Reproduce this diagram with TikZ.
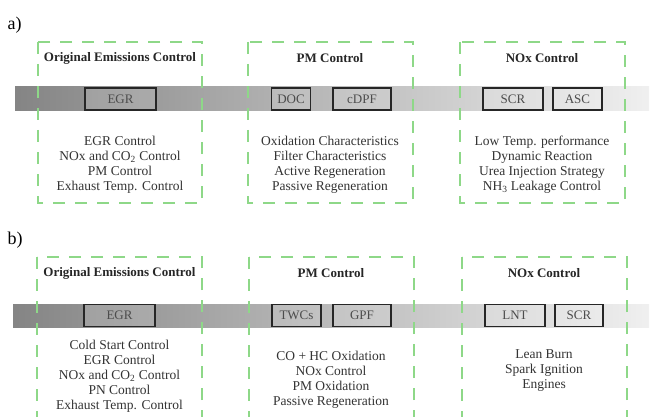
\documentclass[tikz,border=0pt]{standalone}
\usepackage{fontspec}
\setmainfont{Liberation Serif}
\begin{document}
\begin{tikzpicture}[x=1pt,y=-1pt,
  grp/.style={draw=green!45!gray!60!white, draw=dashgreen, line width=2pt, dash pattern=on 12pt off 10pt},
  comp/.style={draw=black!85, line width=1.2pt, fill=white, fill opacity=0.15, text opacity=1, text=black!70, font=\fontsize{13}{15}\selectfont, minimum height=22pt, inner sep=0pt},
  ttl/.style={font=\fontsize{13}{15}\selectfont\bfseries, text=black!85},
  body/.style={font=\fontsize{13.5}{15}\selectfont, text=black!80, align=center},
  lbl/.style={font=\fontsize{18}{20}\selectfont, anchor=west}]
\definecolor{dashgreen}{HTML}{8ED888}
\useasboundingbox (0,0) rectangle (653,417);
\fill[white] (0,0) rectangle (653,417);
% ---- a)
\node[lbl] (la) at (4,25) {a)};
\shade[left color=black!48, right color=black!6] (15,87) rectangle (649,111);
\node[comp, minimum width=71pt] (egra) at (120.5,99) {EGR};
\node[comp, minimum width=39pt] (doc) at (291,99) {DOC};
\node[comp, minimum width=58pt] (cdpf) at (362,99) {cDPF};
\node[comp, minimum width=60pt] (scra) at (513,99) {SCR};
\node[comp, minimum width=49pt] (asc) at (577.5,99) {ASC};
\draw[grp] (38,42) rectangle (202,203);
\draw[grp] (248,42) rectangle (413,203);
\draw[grp] (460,42) rectangle (625,203);
\node[ttl] (ta1) at (120,58) {Original Emissions Control};
\node[ttl] (ta2) at (330,58) {PM Control};
\node[ttl] (ta3) at (542,58) {NOx Control};
\node[body] (ba1) at (120,165) {EGR Control\\NOx and CO\textsubscript{2} Control\\PM Control\\Exhaust Temp. Control};
\node[body] (ba2) at (330,165) {Oxidation Characteristics\\Filter Characteristics\\Active Regeneration\\Passive Regeneration};
\node[body] (ba3) at (542,165) {Low Temp. performance\\Dynamic Reaction\\Urea Injection Strategy\\NH\textsubscript{3} Leakage Control};
% ---- b)
\node[lbl] (lb) at (4,240) {b)};
\shade[left color=black!48, right color=black!6] (13,304) rectangle (649,327);
\node[comp, minimum width=71pt] (egrb) at (119.5,315.5) {EGR};
\node[comp, minimum width=49pt] (twc) at (296.5,315.5) {TWCs};
\node[comp, minimum width=58pt] (gpf) at (362,315.5) {GPF};
\node[comp, minimum width=60pt] (lnt) at (515,315.5) {LNT};
\node[comp, minimum width=48pt] (scrb) at (579,315.5) {SCR};
\draw[grp] (37,257) rectangle (202,422);
\draw[grp] (249,257) rectangle (414,422);
\draw[grp] (462,257) rectangle (627,422);
\node[ttl] (tb1) at (119.5,273) {Original Emissions Control};
\node[ttl] (tb2) at (331,273) {PM Control};
\node[ttl] (tb3) at (544,273) {NOx Control};
\node[body] (bb1) at (119.5,376.5) {Cold Start Control\\EGR Control\\NOx and CO\textsubscript{2} Control\\PN Control\\Exhaust Temp. Control};
\node[body] (bb2) at (331,379.5) {CO + HC Oxidation\\NOx Control\\PM Oxidation\\Passive Regeneration};
\node[body] (bb3) at (544,370.5) {Lean Burn\\Spark Ignition\\Engines};
\end{tikzpicture}
\end{document}
